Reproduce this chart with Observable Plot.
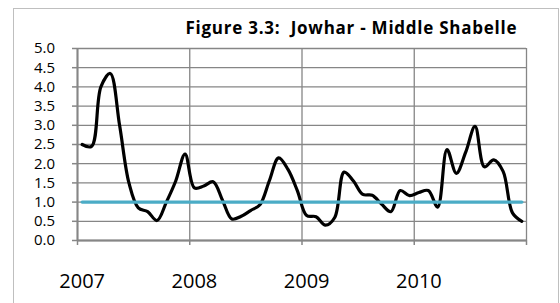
<!DOCTYPE html>
<html><head><meta charset="utf-8">
<script src="https://cdn.jsdelivr.net/npm/d3@7"></script>
<script src="https://cdn.jsdelivr.net/npm/@observablehq/plot@0.6"></script>
<style>
body{margin:0;background:#fff;}
#wrap{position:relative;width:560px;height:303px;overflow:hidden;background:#fff;}
#frame{position:absolute;left:13px;top:8px;width:544px;height:330px;border:1px solid #bfbfbf;}
#chart{position:absolute;left:0;top:0;}
.ttl text{letter-spacing:0.75px;}
</style></head><body>
<div id="wrap"><div id="frame"></div><div id="chart"></div></div>
<script>
const title = "Figure 3.3:  Jowhar - Middle Shabelle";
const years = ["2007", "2008", "2009", "2010"];
const yearStarts = [0, 12, 24, 36, 48];          // month index of each year boundary
const yearLabelPos = [0.5, 12.5, 24.5, 36.5];    // first month centre of each year
const yTicks = [0, 0.5, 1, 1.5, 2, 2.5, 3, 3.5, 4, 4.5, 5];
const thresholdLevel = 1.0;
// monthly values Jan 2007 .. Dec 2010
const values = [
  2.50, 2.45, 4.00, 4.35, 3.00, 1.50, 0.85, 0.75, 0.52, 1.00, 1.55, 2.25,
  1.37, 1.42, 1.53, 1.05, 0.56, 0.63, 0.78, 0.93, 1.55, 2.15, 1.85, 1.30,
  0.65, 0.62, 0.40, 0.60, 1.78, 1.55, 1.20, 1.18, 0.95, 0.75, 1.30, 1.17,
  1.25, 1.30, 0.87, 2.37, 1.75, 2.30, 2.97, 1.92, 2.10, 1.80, 0.72, 0.50
];
const data = values.map((v, i) => ({m: i + 0.5, v}));
const gray = "#868686";

const chart = Plot.plot({
  width: 560,
  height: 303,
  marginLeft: 77,
  marginRight: 34,
  marginTop: 48,
  marginBottom: 63,
  style: {fontFamily: "'Open Sans', sans-serif", fontSize: "15px", color: "#000", background: "transparent"},
  x: {domain: [0, 48], axis: null},
  y: {domain: [0, 5], axis: null},
  marks: [
    Plot.gridY(yTicks, {stroke: gray, strokeOpacity: 1, strokeWidth: 1.3}),
    Plot.gridX(yearStarts, {stroke: gray, strokeOpacity: 1, strokeWidth: 1.3}),
    Plot.ruleX([0], {stroke: gray, strokeWidth: 2}),
    Plot.ruleY([0], {stroke: gray, strokeWidth: 2}),
    Plot.axisY(yTicks, {label: null, tickSize: 5, tickPadding: 17.5, stroke: gray, strokeWidth: 1.5, fill: "#000",
      tickFormat: d3.format(".1f"), fontSize: 15}),
    Plot.axisX(yearStarts, {label: null, tickSize: 5, stroke: gray, strokeWidth: 1.5, tickFormat: () => ""}),
    Plot.axisX(yearLabelPos, {label: null, tickSize: 0, tickPadding: 33, fill: "#000", fontSize: 20,
      tickFormat: (d, i) => years[i]}),
    Plot.line(data, {x: "m", y: "v", curve: "catmull-rom", stroke: "#000", strokeWidth: 3.2,
      strokeLinejoin: "round", strokeLinecap: "round"}),
    Plot.line(data, {x: "m", y: () => thresholdLevel, stroke: "#4bacc6", strokeWidth: 3.4}),
    Plot.text([title], {frameAnchor: "top-left", dx: 108, dy: -14.7, lineAnchor: "bottom",
      textAnchor: "start", fontWeight: "bold", fontSize: 17, fill: "#000", className: "ttl"})
  ]
});
document.getElementById("chart").appendChild(chart);
</script>
</body></html>
